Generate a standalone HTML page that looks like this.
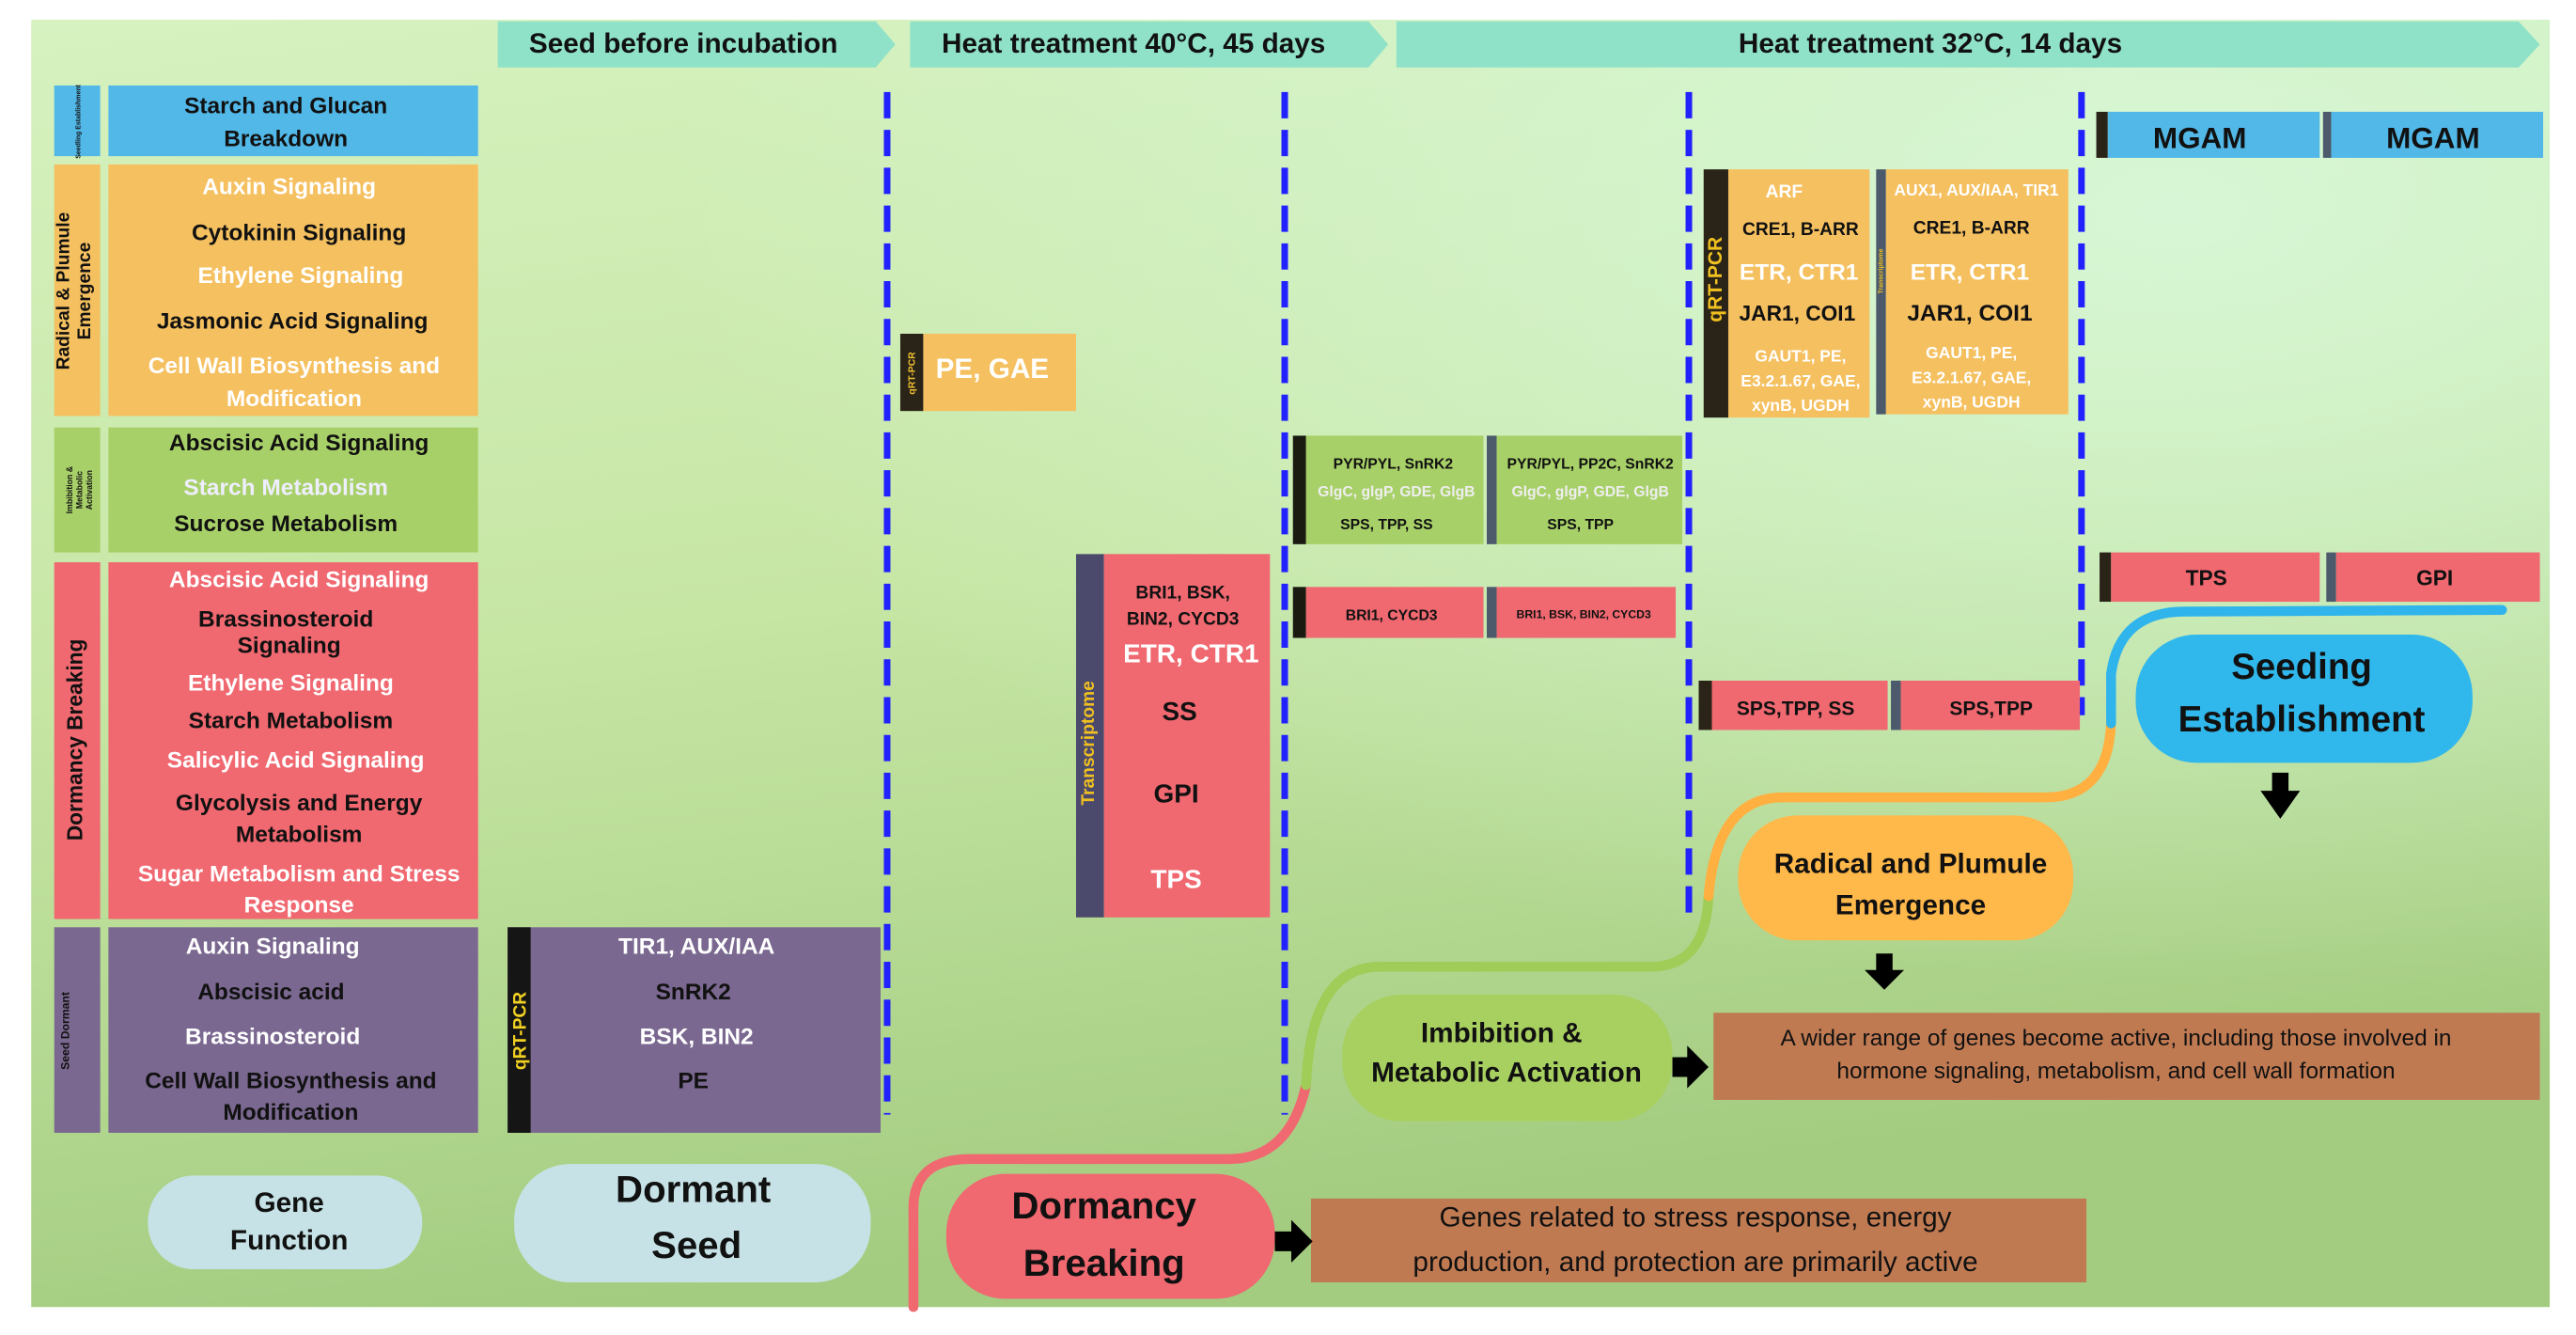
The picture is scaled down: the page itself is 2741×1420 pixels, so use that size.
<!DOCTYPE html>
<html><head><meta charset="utf-8"><style>
html,body{margin:0;padding:0;background:#fff;}
svg{display:block;}
text{font-family:"Liberation Sans",sans-serif;font-weight:bold;}
</style></head><body>
<svg width="2741" height="1420" viewBox="0 0 1568 812" preserveAspectRatio="none" xmlns="http://www.w3.org/2000/svg">
<defs>
<linearGradient id="bg" x1="0" y1="0" x2="0.25" y2="1">
<stop offset="0" stop-color="#d6f2c0"/><stop offset="0.5" stop-color="#c6e6a4"/><stop offset="1" stop-color="#a3cc80"/>
</linearGradient>
<radialGradient id="hl" cx="0.85" cy="0.15" r="0.6">
<stop offset="0" stop-color="#d8f8da" stop-opacity="0.9"/><stop offset="1" stop-color="#d8f8da" stop-opacity="0"/>
</radialGradient>
</defs>
<rect x="0" y="0" width="1568" height="812" fill="#fff"/>
<rect x="19" y="12" width="1533" height="783" fill="url(#bg)"/>
<rect x="19" y="12" width="1533" height="783" fill="url(#hl)"/>

<!-- header arrows -->
<g fill="#8fe2c8">
<polygon points="303,13 533,13 545,27 533,41 303,41"/>
<polygon points="554,13 833,13 845,27 833,41 554,41"/>
<polygon points="850,13 1533,13 1546,27 1533,41 850,41"/>
</g>
<g font-size="17" fill="#111" text-anchor="middle">
<text x="416" y="32">Seed before incubation</text>
<text x="690" y="32">Heat treatment 40°C, 45 days</text>
<text x="1175" y="32">Heat treatment 32°C, 14 days</text>
</g>

<!-- left column -->
<rect x="33" y="52" width="28" height="43" fill="#52b8e8"/><rect x="66" y="52" width="225" height="43" fill="#52b8e8"/>
<rect x="33" y="100" width="28" height="153" fill="#f5c060"/><rect x="66" y="100" width="225" height="153" fill="#f5c060"/>
<rect x="33" y="260" width="28" height="76" fill="#a8d068"/><rect x="66" y="260" width="225" height="76" fill="#a8d068"/>
<rect x="33" y="342" width="28" height="217" fill="#f06870"/><rect x="66" y="342" width="225" height="217" fill="#f06870"/>
<rect x="33" y="564" width="28" height="125" fill="#7a6890"/><rect x="66" y="564" width="225" height="125" fill="#7a6890"/>

<g text-anchor="middle" fill="#111">
<text transform="translate(49,74) rotate(-90)" font-size="4">Seedling Establishment</text>
<text transform="translate(42,177) rotate(-90)" font-size="11">Radical &amp; Plumule</text>
<text transform="translate(55,177) rotate(-90)" font-size="11">Emergence</text>
<text transform="translate(44,298) rotate(-90)" font-size="5">Imbibition &amp;</text>
<text transform="translate(50,298) rotate(-90)" font-size="5">Metabolic</text>
<text transform="translate(56,298) rotate(-90)" font-size="5">Activation</text>
<text transform="translate(50,450) rotate(-90)" font-size="13">Dormancy Breaking</text>
<text transform="translate(42,627) rotate(-90)" font-size="7">Seed Dormant</text>
</g>

<g text-anchor="middle" font-size="14">
<text x="174" y="69" fill="#111">Starch and Glucan</text>
<text x="174" y="89" fill="#111">Breakdown</text>
<text x="176" y="118" fill="#fff">Auxin Signaling</text>
<text x="182" y="146" fill="#111">Cytokinin Signaling</text>
<text x="183" y="172" fill="#fff">Ethylene Signaling</text>
<text x="178" y="200" fill="#111">Jasmonic Acid Signaling</text>
<text x="179" y="227" fill="#fff">Cell Wall Biosynthesis and</text>
<text x="179" y="247" fill="#fff">Modification</text>
<text x="182" y="274" fill="#111">Abscisic Acid Signaling</text>
<text x="174" y="301" fill="#eef">Starch Metabolism</text>
<text x="174" y="323" fill="#111">Sucrose Metabolism</text>
<text x="182" y="357" fill="#fff">Abscisic Acid Signaling</text>
<text x="174" y="381" fill="#111">Brassinosteroid</text>
<text x="176" y="397" fill="#111">Signaling</text>
<text x="177" y="420" fill="#fff">Ethylene Signaling</text>
<text x="177" y="443" fill="#111">Starch Metabolism</text>
<text x="180" y="467" fill="#fff">Salicylic Acid Signaling</text>
<text x="182" y="493" fill="#111">Glycolysis and Energy</text>
<text x="182" y="512" fill="#111">Metabolism</text>
<text x="182" y="536" fill="#fff">Sugar Metabolism and Stress</text>
<text x="182" y="555" fill="#fff">Response</text>
<text x="166" y="580" fill="#fff">Auxin Signaling</text>
<text x="165" y="608" fill="#111">Abscisic acid</text>
<text x="166" y="635" fill="#fff">Brassinosteroid</text>
<text x="177" y="662" fill="#111">Cell Wall Biosynthesis and</text>
<text x="177" y="681" fill="#111">Modification</text>
</g>

<!-- purple qRT box -->
<rect x="309" y="564" width="227" height="125" fill="#7a6890"/>
<rect x="309" y="564" width="14" height="125" fill="#151515"/>
<text transform="translate(320,627) rotate(-90)" font-size="11" fill="#f0d020" text-anchor="middle">qRT-PCR</text>
<g text-anchor="middle" font-size="14">
<text x="424" y="580" fill="#fff">TIR1, AUX/IAA</text>
<text x="422" y="608" fill="#111">SnRK2</text>
<text x="424" y="635" fill="#fff">BSK, BIN2</text>
<text x="422" y="662" fill="#111">PE</text>
</g>

<!-- dashed lines -->
<g stroke="#2222ff" stroke-width="4" stroke-dasharray="16 7" fill="none">
<line x1="540" y1="56" x2="540" y2="678"/>
<line x1="782" y1="56" x2="782" y2="678"/>
<line x1="1028" y1="56" x2="1028" y2="557"/>
<line x1="1267" y1="56" x2="1267" y2="435"/>
</g>

<!-- PE GAE -->
<rect x="548" y="203" width="14" height="47" fill="#2a2418"/>
<rect x="562" y="203" width="93" height="47" fill="#f5c060"/>
<text transform="translate(557,227) rotate(-90)" font-size="6" fill="#f0c030" text-anchor="middle">qRT-PCR</text>
<text x="604" y="230" font-size="17" fill="#fff" text-anchor="middle">PE, GAE</text>

<!-- transcriptome red -->
<rect x="655" y="337" width="17" height="221" fill="#4c4a6c"/>
<rect x="672" y="337" width="101" height="221" fill="#f06870"/>
<text transform="translate(666,452) rotate(-90)" font-size="11" fill="#f0c020" text-anchor="middle">Transcriptome</text>
<g text-anchor="middle">
<text x="720" y="364" font-size="11" fill="#111">BRI1, BSK,</text>
<text x="720" y="380" font-size="11" fill="#111">BIN2, CYCD3</text>
<text x="725" y="403" font-size="16" fill="#fff">ETR, CTR1</text>
<text x="718" y="438" font-size="16" fill="#111">SS</text>
<text x="716" y="488" font-size="16" fill="#111">GPI</text>
<text x="716" y="540" font-size="16" fill="#fff">TPS</text>
</g>

<!-- green pair -->
<rect x="787" y="265" width="8" height="66" fill="#1a1a10"/>
<rect x="795" y="265" width="108" height="66" fill="#a8d068"/>
<rect x="905" y="265" width="6" height="66" fill="#4c5a6c"/>
<rect x="911" y="265" width="113" height="66" fill="#a8d068"/>
<g text-anchor="middle" font-size="9">
<text x="848" y="285" fill="#111">PYR/PYL, SnRK2</text>
<text x="850" y="302" fill="#eee">GlgC, glgP, GDE, GlgB</text>
<text x="844" y="322" fill="#111">SPS, TPP, SS</text>
<text x="968" y="285" fill="#111">PYR/PYL, PP2C, SnRK2</text>
<text x="968" y="302" fill="#eee">GlgC, glgP, GDE, GlgB</text>
<text x="962" y="322" fill="#111">SPS, TPP</text>
</g>

<!-- red BRI1 pair -->
<rect x="787" y="357" width="8" height="31" fill="#1a1a10"/>
<rect x="795" y="357" width="108" height="31" fill="#f06870"/>
<rect x="905" y="357" width="6" height="31" fill="#4c5a6c"/>
<rect x="911" y="357" width="109" height="31" fill="#f06870"/>
<text x="847" y="377" font-size="9" fill="#111" text-anchor="middle">BRI1, CYCD3</text>
<text x="964" y="376" font-size="7" fill="#111" text-anchor="middle">BRI1, BSK, BIN2, CYCD3</text>

<!-- orange big pair -->
<rect x="1037" y="103" width="15" height="151" fill="#2a2418"/>
<rect x="1052" y="103" width="86" height="151" fill="#f5c060"/>
<rect x="1142" y="103" width="6" height="149" fill="#4c5a6c"/>
<rect x="1148" y="103" width="111" height="149" fill="#f5c060"/>
<text transform="translate(1048,170) rotate(-90)" font-size="12" fill="#f0c020" text-anchor="middle">qRT-PCR</text>
<text transform="translate(1146,165) rotate(-90)" font-size="4" fill="#f0c020" text-anchor="middle">Transcriptome</text>
<g text-anchor="middle">
<text x="1086" y="120" font-size="11" fill="#fff">ARF</text>
<text x="1096" y="143" font-size="11" fill="#111">CRE1, B-ARR</text>
<text x="1095" y="170" font-size="14" fill="#fff">ETR, CTR1</text>
<text x="1094" y="195" font-size="13" fill="#111">JAR1, COI1</text>
<text x="1096" y="220" font-size="10" fill="#fff">GAUT1, PE,</text>
<text x="1096" y="235" font-size="10" fill="#fff">E3.2.1.67, GAE,</text>
<text x="1096" y="250" font-size="10" fill="#fff">xynB, UGDH</text>
<text x="1203" y="119" font-size="10" fill="#fff">AUX1, AUX/IAA, TIR1</text>
<text x="1200" y="142" font-size="11" fill="#111">CRE1, B-ARR</text>
<text x="1199" y="170" font-size="14" fill="#fff">ETR, CTR1</text>
<text x="1199" y="195" font-size="14" fill="#111">JAR1, COI1</text>
<text x="1200" y="218" font-size="10" fill="#fff">GAUT1, PE,</text>
<text x="1200" y="233" font-size="10" fill="#fff">E3.2.1.67, GAE,</text>
<text x="1200" y="248" font-size="10" fill="#fff">xynB, UGDH</text>
</g>

<!-- SPS pair -->
<rect x="1034" y="414" width="8" height="30" fill="#2a2418"/>
<rect x="1042" y="414" width="107" height="30" fill="#f06870"/>
<rect x="1151" y="414" width="6" height="30" fill="#4c5a6c"/>
<rect x="1157" y="414" width="109" height="30" fill="#f06870"/>
<text x="1093" y="435" font-size="12" fill="#111" text-anchor="middle">SPS,TPP, SS</text>
<text x="1212" y="435" font-size="12" fill="#111" text-anchor="middle">SPS,TPP</text>

<!-- MGAM -->
<rect x="1276" y="68" width="7" height="28" fill="#2a2418"/>
<rect x="1283" y="68" width="129" height="28" fill="#52b8e8"/>
<rect x="1414" y="68" width="5" height="28" fill="#4c5a6c"/>
<rect x="1419" y="68" width="129" height="28" fill="#52b8e8"/>
<text x="1339" y="90" font-size="18" fill="#111" text-anchor="middle">MGAM</text>
<text x="1481" y="90" font-size="18" fill="#111" text-anchor="middle">MGAM</text>

<!-- TPS GPI -->
<rect x="1278" y="336" width="7" height="30" fill="#2a2418"/>
<rect x="1285" y="336" width="127" height="30" fill="#f06870"/>
<rect x="1416" y="336" width="6" height="30" fill="#4c5a6c"/>
<rect x="1422" y="336" width="124" height="30" fill="#f06870"/>
<text x="1343" y="356" font-size="13" fill="#111" text-anchor="middle">TPS</text>
<text x="1482" y="356" font-size="13" fill="#111" text-anchor="middle">GPI</text>

<!-- path -->
<g fill="none" stroke-width="6" stroke-linecap="round">
<path d="M556,795 L556,735 Q556,705 590,705 L748,705 Q785,705 795,660" stroke="#f06870"/>
<path d="M795,660 Q798,588 840,588 L1005,588 Q1038,588 1040,545" stroke="#a0cc58"/>
<path d="M1040,545 Q1045,485 1085,485 L1245,485 Q1283,485 1285,440" stroke="#ffb040"/>
<path d="M1285,440 L1285,410 Q1290,372 1330,372 L1523,371" stroke="#30b4ec"/>
</g>

<!-- ovals -->
<rect x="90" y="715" width="167" height="57" rx="28" fill="#c6e2e6"/>
<text x="176" y="737" font-size="17" fill="#111" text-anchor="middle">Gene</text>
<text x="176" y="760" font-size="17" fill="#111" text-anchor="middle">Function</text>
<rect x="313" y="708" width="217" height="72" rx="34" fill="#c6e2e6"/>
<text x="422" y="731" font-size="23" fill="#111" text-anchor="middle">Dormant</text>
<text x="424" y="765" font-size="23" fill="#111" text-anchor="middle">Seed</text>
<rect x="576" y="714" width="200" height="76" rx="36" fill="#f06870"/>
<text x="672" y="741" font-size="23" fill="#111" text-anchor="middle">Dormancy</text>
<text x="672" y="776" font-size="23" fill="#111" text-anchor="middle">Breaking</text>
<rect x="817" y="605" width="201" height="77" rx="36" fill="#a8d060"/>
<text x="914" y="634" font-size="17" fill="#111" text-anchor="middle">Imbibition &amp;</text>
<text x="917" y="658" font-size="17" fill="#111" text-anchor="middle">Metabolic Activation</text>
<rect x="1058" y="496" width="204" height="76" rx="36" fill="#ffb84a"/>
<text x="1163" y="531" font-size="17" fill="#111" text-anchor="middle">Radical and Plumule</text>
<text x="1163" y="556" font-size="17" fill="#111" text-anchor="middle">Emergence</text>
<rect x="1300" y="386" width="205" height="78" rx="37" fill="#30b8ec"/>
<text x="1401" y="413" font-size="22" fill="#111" text-anchor="middle">Seeding</text>
<text x="1401" y="445" font-size="22" fill="#111" text-anchor="middle">Establishment</text>

<!-- brown boxes -->
<rect x="1043" y="616" width="503" height="53" fill="#c07a52"/>
<text x="1288" y="636" font-size="14" font-weight="normal" fill="#111" text-anchor="middle" style="font-weight:normal">A wider range of genes become active, including those involved in</text>
<text x="1288" y="656" font-size="14" fill="#111" text-anchor="middle" style="font-weight:normal">hormone signaling, metabolism, and cell wall formation</text>
<rect x="798" y="729" width="472" height="51" fill="#c07a52"/>
<text x="1032" y="746" font-size="17" fill="#111" text-anchor="middle" style="font-weight:normal">Genes related to stress response, energy</text>
<text x="1032" y="773" font-size="17" fill="#111" text-anchor="middle" style="font-weight:normal">production, and protection are primarily active</text>

<!-- black arrows -->
<g fill="#000">
<polygon points="776,749 786,749 786,742 799,755 786,768 786,761 776,761"/>
<polygon points="1018,643 1027,643 1027,636 1040,649 1027,662 1027,655 1018,655"/>
<polygon points="1142,580 1152,580 1152,590 1159,590 1147,602 1135,590 1142,590"/>
<polygon points="1383,470 1393,470 1393,481 1400,481 1388,498 1376,481 1383,481"/>
</g>
</svg>
</body></html>
